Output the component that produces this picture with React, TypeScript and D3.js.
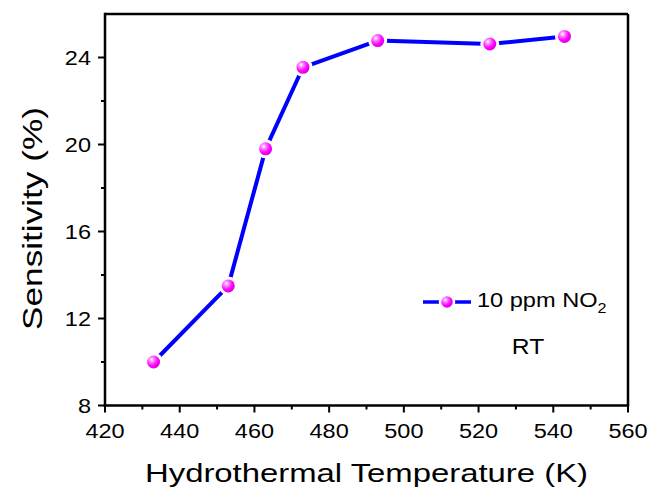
import React from "react";
import * as d3 from "d3";

const temperatures = [433, 453, 463, 473, 493, 523, 543];
const sensitivity = [10.0, 13.5, 19.8, 23.55, 24.78, 24.62, 24.97];
const xTicks = [420, 440, 460, 480, 500, 520, 540, 560];
const xMinor = [430, 450, 470, 490, 510, 530, 550];
const yTicks = [8, 12, 16, 20, 24];
const yMinor = [10, 14, 18, 22];
const seriesLabel = "10 ppm NO";
const seriesSub = "2";
const noteLabel = "RT";
const xTitle = "Hydrothermal Temperature (K)";
const yTitle = "Sensitivity (%)";

const W = 656;
const H = 494;
const left = 105;
const right = 628;
const top = 14;
const bottom = 405.5;
const FONT = "'Liberation Sans', Arial, Helvetica, sans-serif";
const SX = 1.12;

export default function App() {
  const x = d3.scaleLinear().domain([420, 560]).range([left, right]);
  const y = d3.scaleLinear().domain([8, 26]).range([bottom, top]);
  const data = temperatures.map((t, i) => ({ t, v: sensitivity[i] }));
  const line = d3
    .line<{ t: number; v: number }>()
    .x((d) => x(d.t))
    .y((d) => y(d.v));

  const lgY = 302;
  const lgX1 = 423;
  const lgX2 = 471;

  return (
    <svg
      width={W}
      height={H}
      style={{ position: "absolute", left: 0, top: 0, background: "#fff" }}
      fontFamily={FONT}
    >
      <defs>
        <radialGradient id="ball" cx="0.38" cy="0.35" r="0.65">
          <stop offset="0" stopColor="#ffffff" />
          <stop offset="0.25" stopColor="#ff7dff" />
          <stop offset="0.6" stopColor="#ff00ff" />
          <stop offset="1" stopColor="#d000d0" />
        </radialGradient>
      </defs>
      <rect x={0} y={0} width={W} height={H} fill="#fff" />

      {/* data line */}
      <path d={line(data) || ""} fill="none" stroke="#0000ff" strokeWidth={4} strokeLinejoin="round" />
      {data.map((d, i) => (
        <circle key={i} cx={x(d.t)} cy={y(d.v)} r={8} fill="url(#ball)" stroke="#fff" strokeWidth={3} />
      ))}

      {/* frame */}
      <line x1={left} x2={right} y1={top} y2={top} stroke="#000" strokeWidth={2.5} />
      <line x1={right} x2={right} y1={top} y2={bottom} stroke="#000" strokeWidth={2.5} />
      <line x1={left} x2={left} y1={top - 1.2} y2={bottom + 1.2} stroke="#000" strokeWidth={2.5} />
      <line x1={left - 1.2} x2={right + 1.2} y1={bottom} y2={bottom} stroke="#000" strokeWidth={2.5} />

      {/* x ticks */}
      {xTicks.map((t) => (
        <g key={"xt" + t}>
          <line x1={x(t)} x2={x(t)} y1={bottom} y2={bottom + 7} stroke="#000" strokeWidth={2} />
          <text
            transform={`translate(${x(t)},${438}) scale(${SX},1)`}
            textAnchor="middle"
            fontSize={21}
            fill="#000"
          >
            {t}
          </text>
        </g>
      ))}
      {xMinor.map((t) => (
        <line key={"xm" + t} x1={x(t)} x2={x(t)} y1={bottom} y2={bottom + 4} stroke="#000" strokeWidth={2} />
      ))}

      {/* y ticks */}
      {yTicks.map((v) => (
        <g key={"yt" + v}>
          <line x1={left - 7} x2={left} y1={y(v)} y2={y(v)} stroke="#000" strokeWidth={2} />
          <text
            transform={`translate(${91},${y(v) + 7.6}) scale(${SX},1)`}
            textAnchor="end"
            fontSize={21}
            fill="#000"
          >
            {v}
          </text>
        </g>
      ))}
      {yMinor.map((v) => (
        <line key={"ym" + v} x1={left - 4} x2={left} y1={y(v)} y2={y(v)} stroke="#000" strokeWidth={2} />
      ))}

      {/* axis titles */}
      <text
        x={(left + right) / 2}
        y={482}
        textAnchor="middle"
        fontSize={26}
        textLength={443}
        lengthAdjust="spacingAndGlyphs"
        fill="#000"
      >
        {xTitle}
      </text>
      <text
        transform={`translate(${42},${218.5}) rotate(-90)`}
        textAnchor="middle"
        fontSize={28}
        textLength={223}
        lengthAdjust="spacingAndGlyphs"
        fill="#000"
      >
        {yTitle}
      </text>

      {/* legend */}
      <line x1={lgX1} x2={lgX2} y1={lgY} y2={lgY} stroke="#0000ff" strokeWidth={3.5} />
      <circle cx={(lgX1 + lgX2) / 2} cy={lgY} r={7} fill="url(#ball)" stroke="#fff" strokeWidth={2.5} />
      <text transform={`translate(${477},${307.3}) scale(1.15,1)`} fontSize={20.5} fill="#000">
        {seriesLabel}
        <tspan fontSize={14} dy={6}>
          {seriesSub}
        </tspan>
      </text>
      <text transform={`translate(${528},${354}) scale(${SX},1)`} textAnchor="middle" fontSize={22} fill="#000">
        {noteLabel}
      </text>
    </svg>
  );
}
